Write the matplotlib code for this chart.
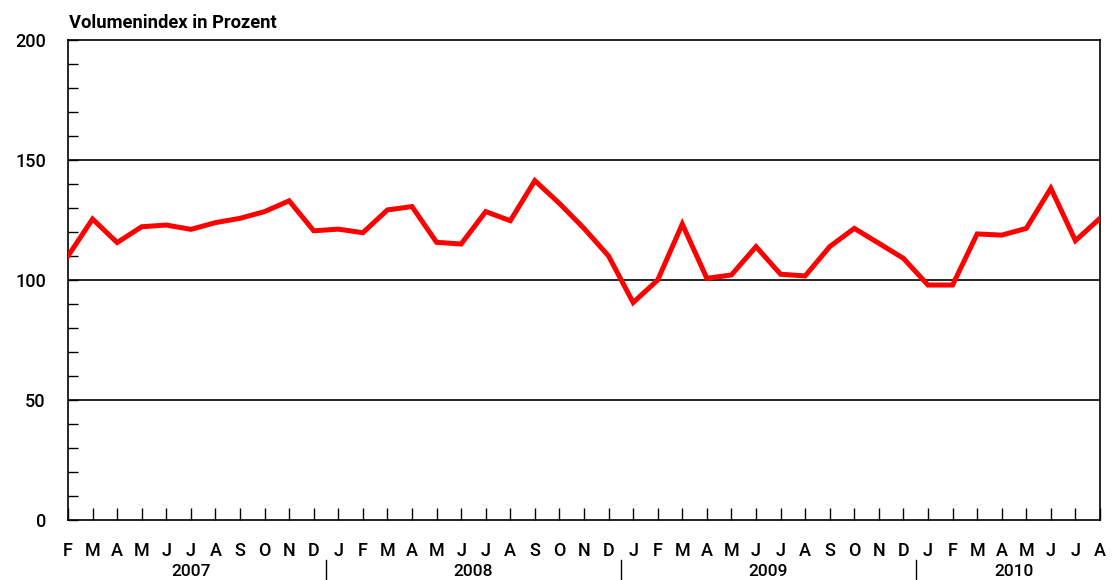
import matplotlib
matplotlib.use("Agg")
import matplotlib.pyplot as plt
import matplotlib.transforms as mtransforms

months = ["F", "M", "A", "M", "J", "J", "A", "S", "O", "N", "D",
          "J", "F", "M", "A", "M", "J", "J", "A", "S", "O", "N", "D",
          "J", "F", "M", "A", "M", "J", "J", "A", "S", "O", "N", "D",
          "J", "F", "M", "A", "M", "J", "J", "A"]
values = [110, 125.4, 115.6, 122.2, 122.9, 121.1, 123.9, 125.7, 128.5, 133, 120.5,
          121.2, 119.7, 129.2, 130.6, 115.7, 115, 128.5, 124.7, 141.4, 131.9, 121.5, 110,
          90.6, 100, 123.3, 100.7, 102.1, 113.9, 102.4, 101.7, 113.9, 121.5, 115.3, 109,
          97.9, 97.9, 119.2, 118.7, 121.5, 138.2, 116.4, 125.7]
years = ["2007", "2008", "2009", "2010"]
year_start = [0, 11, 23, 35]
year_end = [10, 22, 34, 42]
y_labels = ["0", "50", "100", "150", "200"]
y_label_vals = [0, 50, 100, 150, 200]
title = "Volumenindex in Prozent"

plt.rcParams['font.family'] = ['Roboto', 'DejaVu Sans']

W, H = 1112, 580
fig = plt.figure(figsize=(W / 100, H / 100), dpi=100)
ax = fig.add_axes([68 / W, 1 - 520 / H, (1100 - 68) / W, 480 / H])

x = list(range(len(values)))
ax.plot(x, values, color="#ff0000", lw=3.6, solid_joinstyle="miter", zorder=3)

ax.set_xlim(0, len(values) - 1)
ax.set_ylim(0, 200)

for v in [50, 100, 150]:
    ax.axhline(v, color="black", lw=1.2, zorder=2)

for s in ax.spines.values():
    s.set_linewidth(1.2)
    s.set_color("black")

ax.set_yticks(y_label_vals)
ax.set_yticklabels(y_labels)
ax.set_yticks(range(0, 201, 10), minor=True)
ax.tick_params(axis="y", which="both", direction="in", length=7, width=1.0,
               pad=16, labelsize=13)
for t in ax.get_yticklabels():
    t.set_fontweight("medium")

ax.set_xticks(x)
ax.set_xticklabels(months)
ax.tick_params(axis="x", which="major", direction="in", length=9, width=1.0,
               pad=16, labelsize=13)
for t in ax.get_xticklabels():
    t.set_fontweight("medium")

trans = mtransforms.blended_transform_factory(ax.transData, ax.transAxes)
for yr, s, e in zip(years, year_start, year_end):
    ax.text((s + e) / 2, -0.108, yr, transform=trans, ha="center", va="center",
            fontsize=12.5, fontweight="medium", clip_on=False)
for e in year_end[:-1]:
    ax.plot([e + 0.5, e + 0.5], [-0.083, -0.125], transform=trans, color="black",
            lw=1.0, clip_on=False)

fig.text(69 / W, 1 - 28 / H, title, ha="left", va="baseline", fontsize=13.2,
         fontweight="bold")

fig.savefig("out.png", dpi=100)
